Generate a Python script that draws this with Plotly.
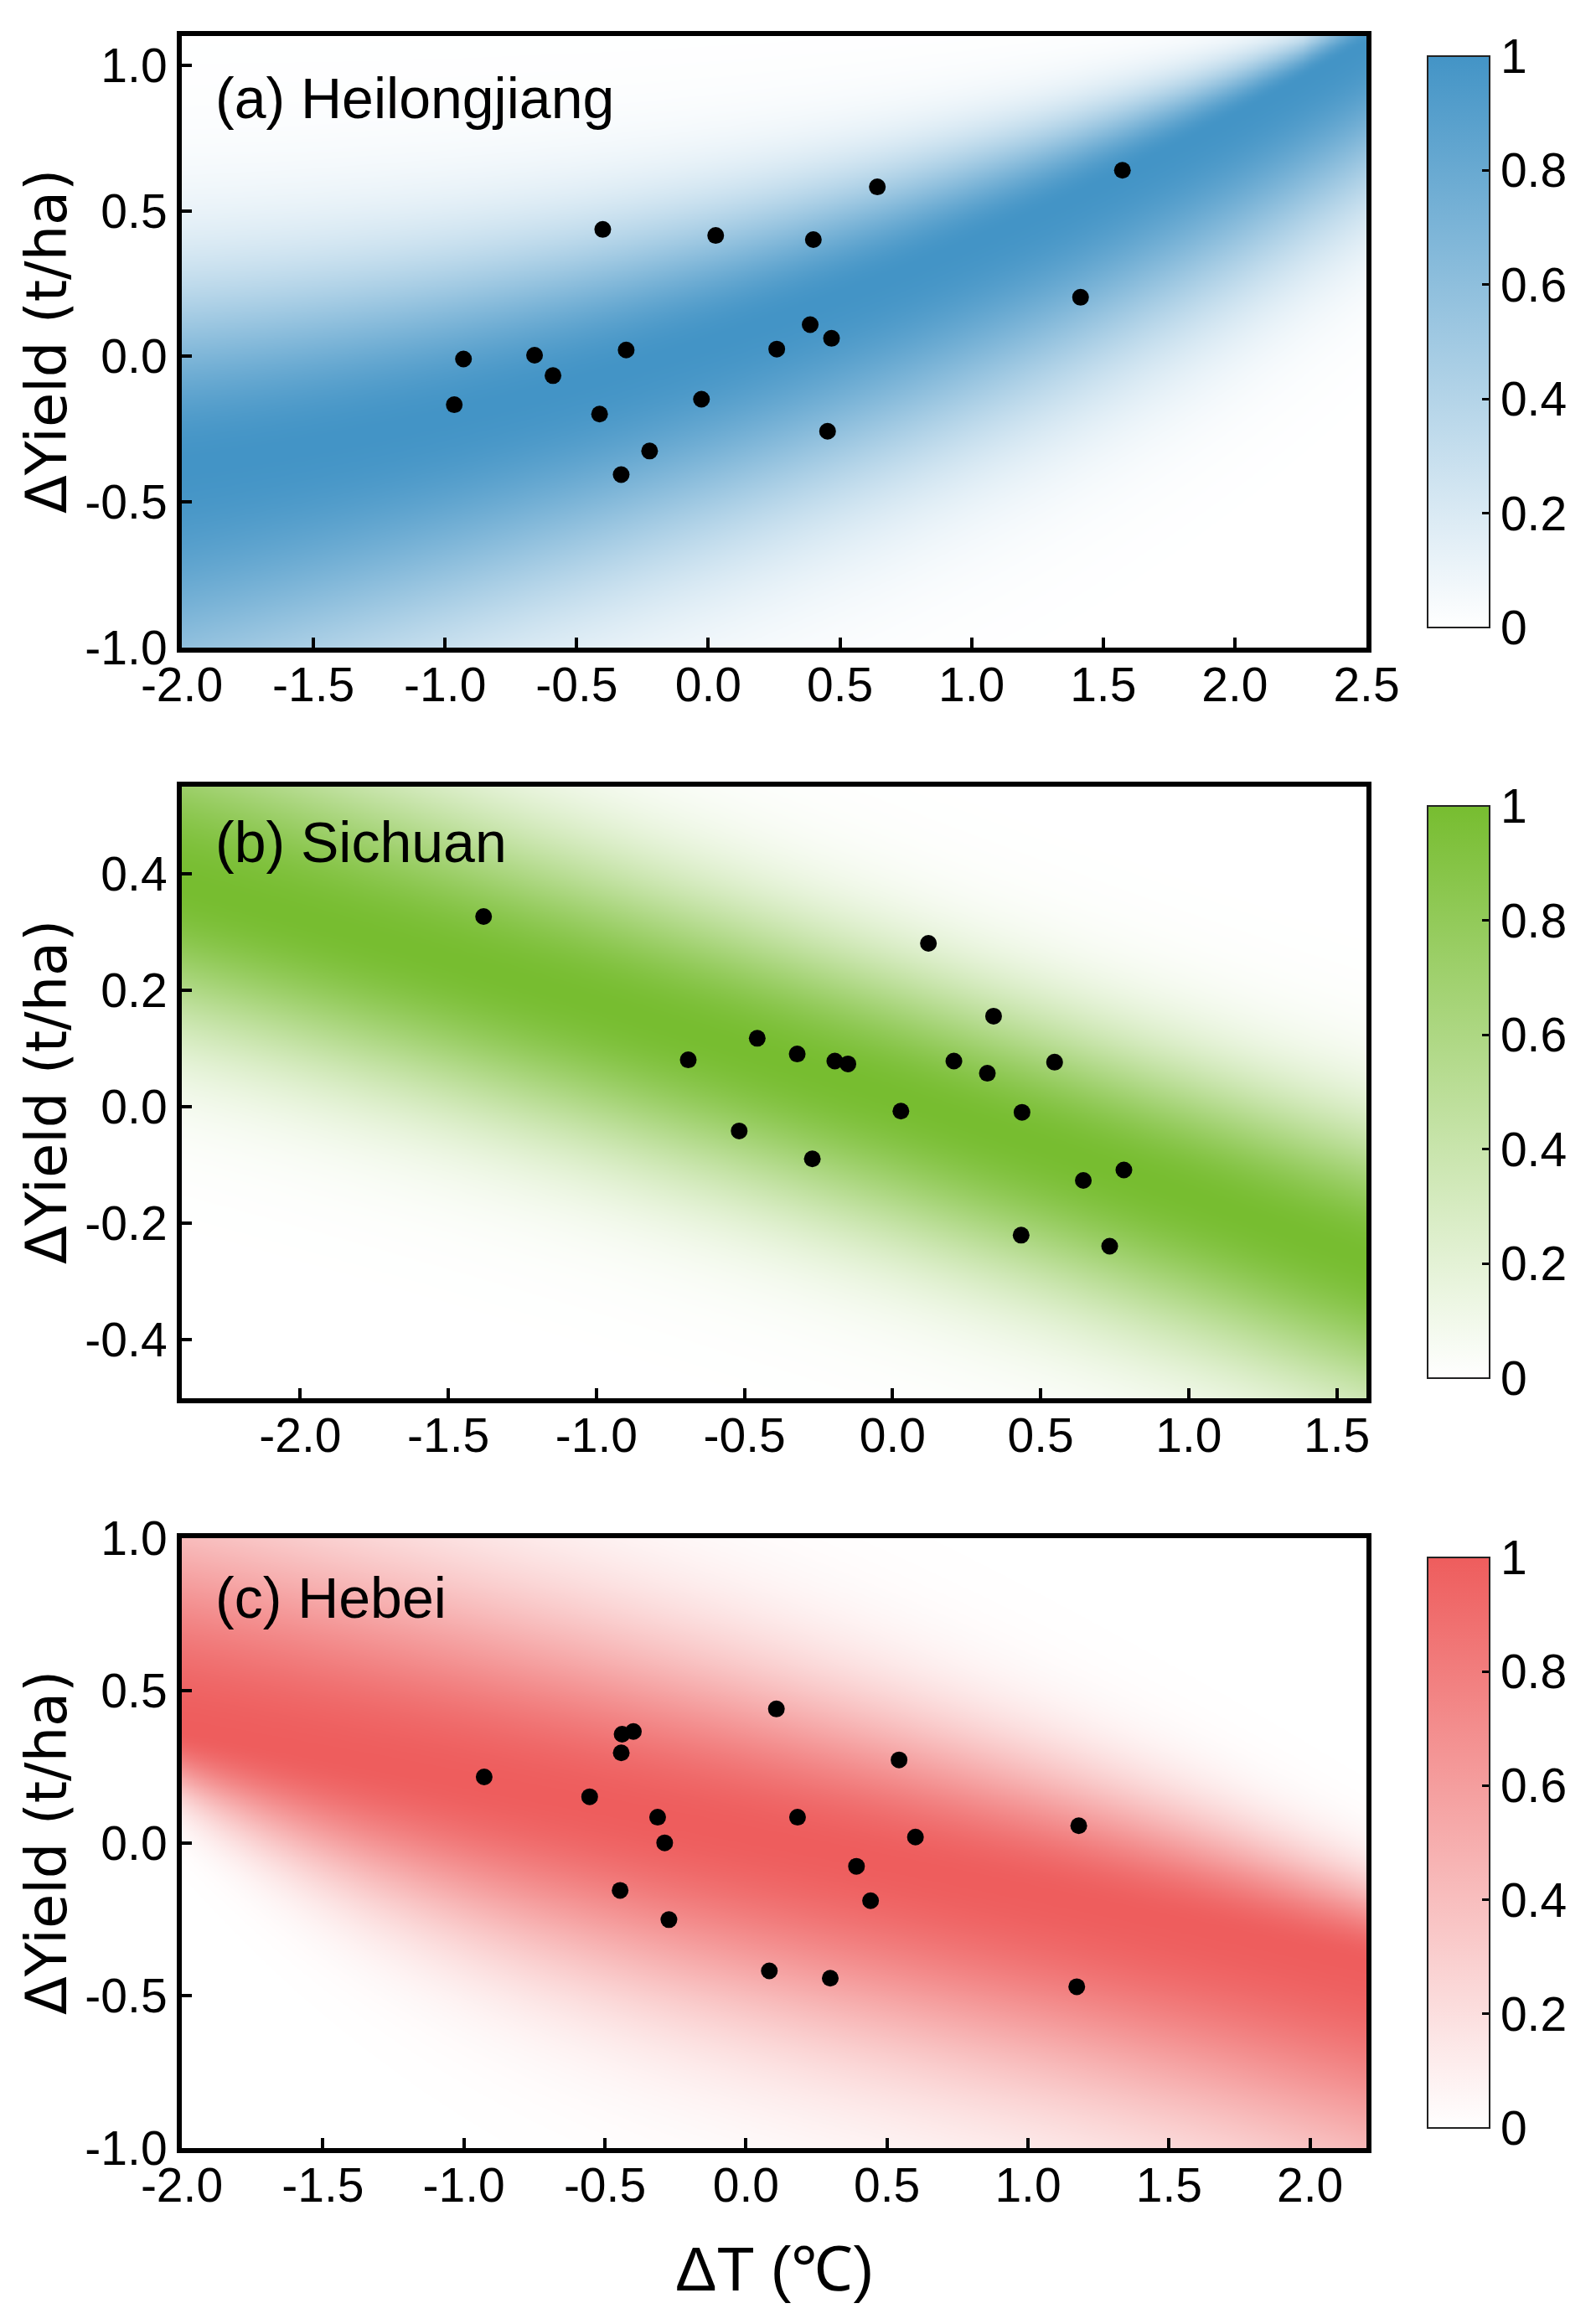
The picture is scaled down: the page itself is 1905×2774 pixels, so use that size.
import numpy as np
import plotly.graph_objects as go

# ---------------- data ----------------
a_x = [1.573, 0.642, -0.401, 0.028, 0.399, 1.414, 0.387, 0.468, 0.260, -0.312,
       -0.660, -0.930, -0.590, -0.965, -0.026, -0.413, 0.453, -0.223, -0.331]
a_y = [0.639, 0.582, 0.436, 0.415, 0.401, 0.203, 0.109, 0.062, 0.025, 0.022,
       0.004, -0.009, -0.066, -0.166, -0.147, -0.198, -0.257, -0.325, -0.406]

b_x = [-1.381, 0.121, 0.341, -0.457, -0.322, -0.690, -0.195, -0.151, 0.207, 0.547,
       0.320, 0.028, 0.437, -0.518, -0.271, 0.781, 0.644, 0.434, 0.733]
b_y = [0.327, 0.281, 0.156, 0.118, 0.091, 0.081, 0.079, 0.074, 0.079, 0.077,
       0.058, -0.007, -0.009, -0.041, -0.089, -0.108, -0.126, -0.220, -0.239]

c_x = [0.108, -0.399, -0.439, -0.442, 0.543, -0.928, -0.554, -0.313, 0.183, 1.180,
       0.601, -0.288, 0.392, -0.446, 0.442, -0.273, 0.083, 0.299, 1.173]
c_y = [0.440, 0.366, 0.357, 0.296, 0.273, 0.217, 0.152, 0.085, 0.085, 0.057,
       0.020, 0.001, -0.076, -0.155, -0.189, -0.251, -0.419, -0.443, -0.471]

# density band parameters (polynomial coefficients in x, lowest order first)
a_center = [0.05, 0.30, 0.045]
a_width_up = [0.31, -0.075, -0.01]
a_width_lo = [0.46, -0.03, 0.01, -0.006]
b_center = [0.02, -0.165, -0.006]
b_width_up = [0.16, -0.01, 0.005]
b_width_lo = [0.17]
c_center = [0.03, -0.18, -0.005]
c_width_up = [0.37, -0.07, -0.008]
c_width_lo = [0.40, 0.04, -0.025, 0.01]

titles = ["(a) Heilongjiang", "(b) Sichuan", "(c) Hebei"]
x_ranges = [[-2.0, 2.5], [-2.4, 1.6], [-2.0, 2.2]]
y_ranges = [[-1.0, 1.1], [-0.5, 0.55], [-1.0, 1.0]]
x_ticks = [[-2.0, -1.5, -1.0, -0.5, 0.0, 0.5, 1.0, 1.5, 2.0, 2.5],
           [-2.0, -1.5, -1.0, -0.5, 0.0, 0.5, 1.0, 1.5],
           [-2.0, -1.5, -1.0, -0.5, 0.0, 0.5, 1.0, 1.5, 2.0]]
y_ticks = [[-1.0, -0.5, 0.0, 0.5, 1.0],
           [-0.4, -0.2, 0.0, 0.2, 0.4],
           [-1.0, -0.5, 0.0, 0.5, 1.0]]
cb_ticks = [0, 0.2, 0.4, 0.6, 0.8, 1]
cb_text = ["0", "0.2", "0.4", "0.6", "0.8", "1"]
colors = ["#4394C6", "#77BD30", "#EE5D5D"]

# ---------------- layout geometry (page pixels; body has an 8px margin) ----------------
OFF = 8
W, H = 1905 - OFF, 2774 - OFF
px_left, px_right = 217 - OFF, 1631 - OFF
panel_px = [(43 - OFF, 773 - OFF), (939 - OFF, 1669 - OFF), (1836 - OFF, 2564 - OFF)]
cbar_px = [(67 - OFF, 749 - OFF), (962 - OFF, 1645 - OFF), (1859 - OFF, 2540 - OFF)]
label_px = [117 - OFF, 1005 - OFF, 1907 - OFF]


def poly(coef, x):
    return sum(c * x ** i for i, c in enumerate(coef))


def density(xr, yr, cen, wu, wl):
    xs = np.linspace(xr[0], xr[1], 260)
    ys = np.linspace(yr[0], yr[1], 220)
    X, Y = np.meshgrid(xs, ys)
    d = Y - poly(cen, X)
    su = np.maximum(poly(wu, X), 0.09)
    sl = np.maximum(poly(wl, X), 0.09)
    s = np.where(d >= 0, su, sl)
    return xs, ys, np.exp(-0.5 * (d / s) ** 2)


pts = [(a_x, a_y), (b_x, b_y), (c_x, c_y)]
bands = [(a_center, a_width_up, a_width_lo),
         (b_center, b_width_up, b_width_lo),
         (c_center, c_width_up, c_width_lo)]

fig = go.Figure()
font_family = "Liberation Sans"
annotations = []

for i in range(3):
    xr, yr = x_ranges[i], y_ranges[i]
    xs, ys, z = density(xr, yr, *bands[i])
    top, bot = panel_px[i]
    cb_top, cb_bot = cbar_px[i]
    sfx = "" if i == 0 else str(i + 1)
    fig.add_trace(go.Heatmap(
        x=xs, y=ys, z=z, zmin=0, zmax=1, zsmooth="best",
        colorscale=[[0, "#FFFFFF"], [1, colors[i]]],
        xaxis="x" + sfx, yaxis="y" + sfx, hoverinfo="skip",
        colorbar=dict(
            x=(1704 - OFF) / W, xanchor="left", xpad=0,
            y=1 - (cb_top + cb_bot) / 2 / H, yanchor="middle", ypad=0,
            len=cb_bot - cb_top, lenmode="pixels", thickness=74,
            outlinewidth=2, outlinecolor="#222222",
            tickvals=cb_ticks, ticktext=cb_text, ticks="inside",
            ticklen=10, tickwidth=3, tickcolor="black",
            tickfont=dict(family=font_family, size=57, color="black"),
        ),
    ))
    fig.add_trace(go.Scatter(
        x=pts[i][0], y=pts[i][1], mode="markers",
        marker=dict(color="black", size=20),
        xaxis="x" + sfx, yaxis="y" + sfx, showlegend=False, hoverinfo="skip",
    ))
    ax_common = dict(showline=True, mirror=True, linecolor="black", linewidth=6,
                     ticks="inside", ticklen=12, tickwidth=4, tickcolor="black",
                     showgrid=False, zeroline=False, automargin=False,
                     tickfont=dict(family=font_family, size=57, color="black"))
    fig.layout["xaxis" + sfx] = dict(
        ax_common, domain=[px_left / W, px_right / W], range=xr,
        tickvals=x_ticks[i], ticktext=["%.1f" % v for v in x_ticks[i]],
        anchor="y" + sfx)
    fig.layout["yaxis" + sfx] = dict(
        ax_common, domain=[1 - bot / H, 1 - top / H], range=yr,
        tickvals=y_ticks[i], ticktext=["%.1f" % v for v in y_ticks[i]],
        anchor="x" + sfx)
    annotations.append(dict(
        text=titles[i], x=(255 - OFF) / W, y=1 - label_px[i] / H,
        xref="paper", yref="paper",
        xanchor="left", yanchor="middle", showarrow=False,
        font=dict(family=font_family, size=68, color="black")))
    annotations.append(dict(
        text="ΔYield (t/ha)", x=(56 - OFF) / W, y=1 - (top + bot) / 2 / H,
        xref="paper", yref="paper", xanchor="center", yanchor="middle",
        textangle=-90, showarrow=False,
        font=dict(family="DejaVu Sans", size=67, color="black")))

annotations.append(dict(
    text="ΔT (℃)", x=(px_left + px_right) / 2 / W, y=1 - (2708 - OFF) / H,
    xref="paper", yref="paper", xanchor="center", yanchor="middle",
    showarrow=False, font=dict(family=font_family, size=74, color="black")))

fig.update_layout(
    width=W, height=H,
    margin=dict(l=0, r=0, t=0, b=0, pad=0, autoexpand=False),
    paper_bgcolor="white", plot_bgcolor="white",
    showlegend=False, annotations=annotations,
)
try:
    fig.update_xaxes(ticklabelstandoff=-10)
except Exception:
    pass

fig.write_html("out.html")
